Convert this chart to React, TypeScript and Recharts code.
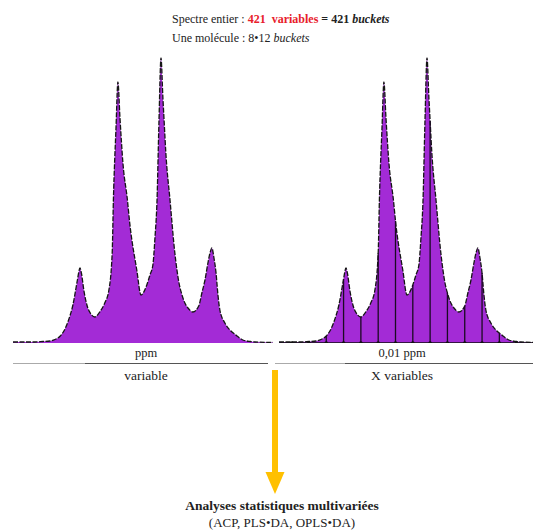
import { AreaChart, Area, XAxis, YAxis, ReferenceLine, ReferenceDot } from "recharts";

// chemical shift (ppm), left to right on the spectrum
const shift = [
  1.3973, 1.39, 1.3846, 1.38, 1.376, 1.3731, 1.37, 1.3679, 1.365, 1.3627, 1.3609,
  1.36, 1.3586, 1.3578, 1.3563, 1.3546, 1.3523, 1.35, 1.3472, 1.3443, 1.342, 1.34,
  1.3393, 1.3378, 1.3367, 1.3355, 1.3338, 1.3312, 1.33, 1.3257, 1.3234, 1.32, 1.3182,
  1.3165, 1.3153, 1.3141, 1.313, 1.3118, 1.3107, 1.31, 1.309, 1.3066, 1.3038, 1.3014,
  1.3, 1.298, 1.2962, 1.2934, 1.29, 1.2882, 1.2864, 1.2847, 1.2835, 1.2824, 1.2812,
  1.28, 1.2789, 1.2778, 1.2749, 1.272, 1.27, 1.2679, 1.2645, 1.26, 1.2575, 1.2471,
];

// signal intensity at each shift
const intensity = [
  1, 1, 1, 1.5, 2, 3.5, 7, 12, 24, 38, 55,
  64, 75, 70, 52, 38, 29, 26, 31, 40, 52, 90,
  143, 215, 261, 225, 180, 143, 122, 72, 48, 58, 68,
  78, 105, 143, 220, 285, 245, 222, 190, 143, 90, 60,
  50, 40, 35, 31, 37, 50, 63, 80, 90, 95, 85,
  70, 48, 33, 20, 13, 10, 7, 3, 1.5, 1, 0.5,
];

// bucket boundaries, 0.01 ppm apart
const buckets = [1.39, 1.38, 1.37, 1.36, 1.35, 1.34, 1.33, 1.32, 1.31, 1.3, 1.29, 1.28, 1.27, 1.26];

const PURPLE = "#A32BD6";
const W = 260;
const H = 300;

const rows = shift.map((s, i) => ({ ppm: s, h: intensity[i] }));
const bucketRows = buckets.map((b) => ({
  ppm: b,
  h: rows.find((r) => Math.abs(r.ppm - b) < 1e-6)?.h ?? 0,
}));

function Spectrum({ withBuckets }: { withBuckets?: boolean }) {
  return (
    <AreaChart width={W} height={H} data={rows} margin={{ top: 0, right: 0, bottom: 0, left: 0 }}>
      <XAxis type="number" dataKey="ppm" domain={[1.2471, 1.3973]} reversed hide />
      <YAxis type="number" domain={[0, 300]} hide />
      <Area
        type="monotone"
        dataKey="h"
        stroke="#151515"
        strokeWidth={1.3}
        strokeDasharray="5 1.5"
        fill={PURPLE}
        fillOpacity={1}
        dot={false}
        activeDot={false}
        isAnimationActive={false}
      />
      {withBuckets && <ReferenceLine y={0} stroke="#111" strokeWidth={1.5} />}
      {withBuckets &&
        bucketRows.map((b) => (
          <ReferenceLine
            key={"l" + b.ppm}
            segment={[
              { x: b.ppm, y: 0 },
              { x: b.ppm, y: b.h },
            ]}
            stroke="#1a0a22"
            strokeWidth={1.3}
          />
        ))}
      {withBuckets &&
        bucketRows.map((b) => (
          <ReferenceDot key={"d" + b.ppm} x={b.ppm} y={0} r={1.8} fill="#111" stroke="none" />
        ))}
    </AreaChart>
  );
}

const serif = "'Liberation Serif', 'DejaVu Serif', 'Times New Roman', Times, serif";

export default function App() {
  const abs = (left: number, top: number, extra: React.CSSProperties = {}): React.CSSProperties => ({
    position: "absolute",
    left,
    top,
    ...extra,
  });

  return (
    <div
      style={{
        position: "absolute",
        left: 0,
        top: 0,
        width: 533,
        height: 530,
        overflow: "hidden",
        background: "#fff",
        fontFamily: serif,
        color: "#222",
      }}
    >
      {/* title */}
      <div style={abs(172, 10, { fontSize: 12, lineHeight: "19px", whiteSpace: "nowrap" })}>
        <div>
          Spectre entier :{" "}
          <b style={{ color: "#E8202A" }}>421&nbsp; variables</b>{" "}
          <b>
            = 421 <i>buckets</i>
          </b>
        </div>
        <div>
          Une molécule : 8•12 <i>buckets</i>
        </div>
      </div>

      {/* spectra */}
      <div style={abs(13, 43)}>
        <Spectrum />
      </div>
      <div style={abs(279, 43)}>
        <Spectrum withBuckets />
      </div>

      {/* scale lines */}
      <div style={abs(13, 363, { width: 255, height: 1, background: "#aaa" })} />
      <div style={abs(85, 363, { width: 183, height: 1, background: "#555" })} />
      <div style={abs(275, 363, { width: 258, height: 1, background: "#aaa" })} />
      <div style={abs(345, 363, { width: 188, height: 1, background: "#555" })} />

      {/* axis captions */}
      <div style={abs(96, 346, { width: 100, textAlign: "center", fontSize: 12.5 })}>ppm</div>
      <div style={abs(96, 368, { width: 100, textAlign: "center", fontSize: 13.5 })}>variable</div>
      <div style={abs(352, 346, { width: 100, textAlign: "center", fontSize: 12.5 })}>0,01 ppm</div>
      <div style={abs(352, 368, { width: 100, textAlign: "center", fontSize: 13.5 })}>X variables</div>

      {/* arrow */}
      <svg width={533} height={530} style={abs(0, 0, { pointerEvents: "none" })}>
        <rect x={272} y={370} width={6} height={103} fill="#FFC000" />
        <polygon points="265.5,472 284.5,472 275,494" fill="#FFC000" />
      </svg>

      {/* conclusion */}
      <div style={abs(132, 498, { width: 300, textAlign: "center", fontSize: 13.5, fontWeight: "bold" })}>
        Analyses statistiques multivariées
      </div>
      <div style={abs(132, 515, { width: 300, textAlign: "center", fontSize: 13 })}>
        (ACP, PLS•DA, OPLS•DA)
      </div>
    </div>
  );
}
